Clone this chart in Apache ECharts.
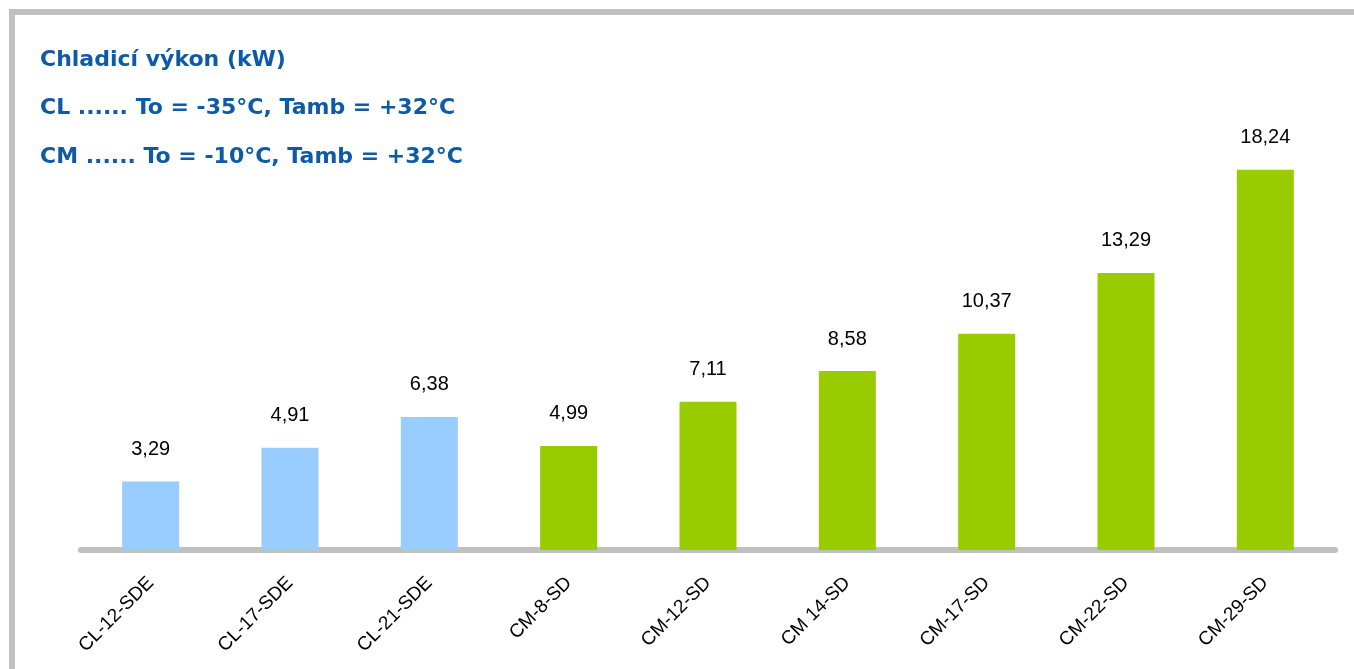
<!DOCTYPE html>
<html>
<head>
<meta charset="utf-8">
<script src="https://cdn.jsdelivr.net/npm/echarts@6/dist/echarts.min.js"></script>
<style>html,body{margin:0;padding:0;background:#fff;}#c{width:1354px;height:669px;}</style>
</head>
<body>
<div id="c"></div>
<script>
var categories = ["CL-12-SDE","CL-17-SDE","CL-21-SDE","CM-8-SD","CM-12-SD","CM 14-SD","CM-17-SD","CM-22-SD","CM-29-SD"];
var values = [3.29, 4.91, 6.38, 4.99, 7.11, 8.58, 10.37, 13.29, 18.24];
var seriesGroup = ["CL","CL","CL","CM","CM","CM","CM","CM","CM"];
var titleLines = ["Chladicí výkon (kW)", "CL ...... To = -35°C, Tamb = +32°C", "CM ...... To = -10°C, Tamb = +32°C"];
var groupColors = {CL: "#99ccff", CM: "#99cc00"};

var chart = echarts.init(document.getElementById('c'));
var titleTops = [44, 92, 141];
chart.setOption({
  animation: false,
  backgroundColor: '#ffffff',
  title: titleLines.map(function (t, i) {
    return {text: t, left: 35, top: titleTops[i], textStyle: {fontFamily: 'DejaVu Sans', fontWeight: 'bold', fontSize: 22, color: '#0d5aa7'}};
  }),
  graphic: [
    {type: 'rect', shape: {x: 9, y: 9, width: 1345, height: 6}, style: {fill: '#c0c0c0'}},
    {type: 'rect', shape: {x: 9, y: 9, width: 6, height: 660}, style: {fill: '#c0c0c0'}}
  ],
  grid: {left: 81, right: 19, top: 133, bottom: 119, containLabel: false},
  xAxis: {
    type: 'category',
    data: categories,
    axisLine: {show: true, lineStyle: {color: '#c0c0c0', width: 6}},
    axisTick: {show: false},
    axisLabel: {rotate: 45, margin: 30, fontFamily: 'Liberation Sans', fontSize: 19, color: '#000'}
  },
  yAxis: {type: 'value', min: 0, max: 20, show: false, splitLine: {show: false}},
  series: [{
    type: 'bar',
    barWidth: 57,
    data: values.map(function (v, i) {
      return {value: v, itemStyle: {color: groupColors[seriesGroup[i]]}};
    }),
    label: {
      show: true, position: 'top', distance: 22,
      fontFamily: 'Liberation Sans', fontSize: 20, color: '#000',
      formatter: function (p) { return p.value.toFixed(2).replace('.', ','); }
    }
  }]
});
</script>
</body>
</html>
